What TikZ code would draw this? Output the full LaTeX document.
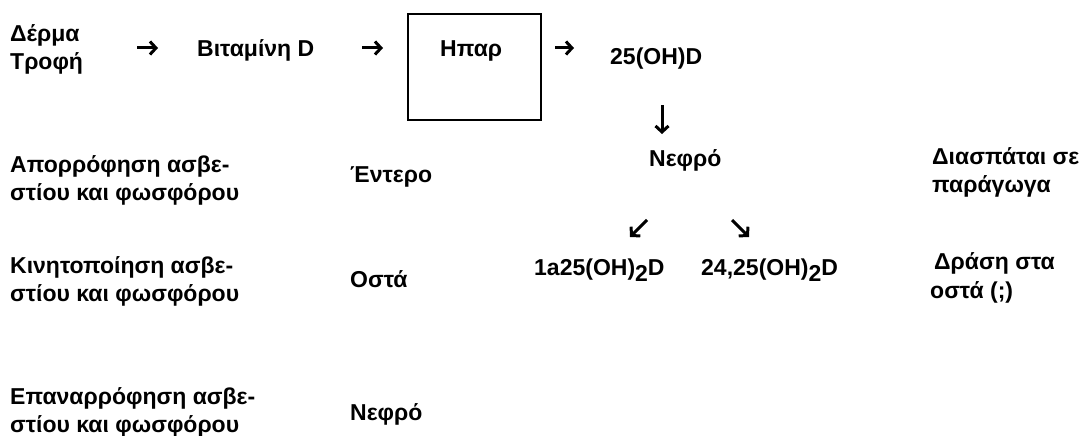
\documentclass[tikz,border=0pt]{standalone}
\usepackage{fontspec}
\setmainfont{Liberation Sans}
\usetikzlibrary{arrows.meta}
\newcommand{\subtwo}{\raisebox{-6pt}{2}}
\begin{document}
\begin{tikzpicture}[x=1pt,y=-1pt,
  txt/.style={anchor=base west, inner sep=0pt, align=left,
    font=\fontsize{23}{28.5}\selectfont\bfseries},
  arr/.style={line width=3pt, -{Straight Barb[length=6pt,width=13pt]}},
  boxframe/.style={draw, line width=1.8pt, inner sep=0pt, anchor=north west,
    minimum width=133pt, minimum height=106pt}]
\useasboundingbox (0,0) rectangle (1084,436);
% top row (two-line nodes are placed by the baseline of their last line)
\node[txt] (src) at (10,70) {Δέρμα\\Τροφή};
\node[txt] (vit) at (197,57) {Βιταμίνη D};
\node[boxframe] (liver) at (407,13) {};
\node[txt] (liverlbl) at (440,57) {Ηπαρ};
\node[txt] (oh25) at (610,65) {25(OH)D};
\node[txt] (kid) at (649,166) {Νεφρό};
\node[txt] (deg) at (932,192.5) {Διασπάται σε\\παράγωγα};
\node[txt] (f1) at (534,275) {1a25(OH)\subtwo D};
\node[txt] (f2) at (701,275) {24,25(OH)\subtwo D};
\node[txt] (act) at (930,298) {\hspace{4pt}Δράση στα\\οστά (;)};
% left column
\node[txt] (abs) at (10,200.5) {Απορρόφηση ασβε-\\στίου και φωσφόρου};
\node[txt] (ent) at (350,182) {Έντερο};
\node[txt] (mob) at (10,301.5) {Κινητοποίηση ασβε-\\στίου και φωσφόρου};
\node[txt] (ost) at (350,287) {Οστά};
\node[txt] (reab) at (10,432.5) {Επαναρρόφηση ασβε-\\στίου και φωσφόρου};
\node[txt] (kid2) at (350,420) {Νεφρό};
% arrows
\coordinate (a1t) at (137,48); \coordinate (a1h) at (158,48);
\coordinate (a2t) at (362,48); \coordinate (a2h) at (383,48);
\coordinate (a3t) at (555,48); \coordinate (a3h) at (574,48);
\coordinate (a4t) at (662,105); \coordinate (a4h) at (662,134);
\coordinate (a5t) at (647,220); \coordinate (a5h) at (630,237);
\coordinate (a6t) at (732,220); \coordinate (a6h) at (749,237);
\draw[arr] (a1t) -- (a1h);
\draw[arr] (a2t) -- (a2h);
\draw[arr] (a3t) -- (a3h);
\draw[arr] (a4t) -- (a4h);
\draw[arr] (a5t) -- (a5h);
\draw[arr] (a6t) -- (a6h);
\end{tikzpicture}
\end{document}
